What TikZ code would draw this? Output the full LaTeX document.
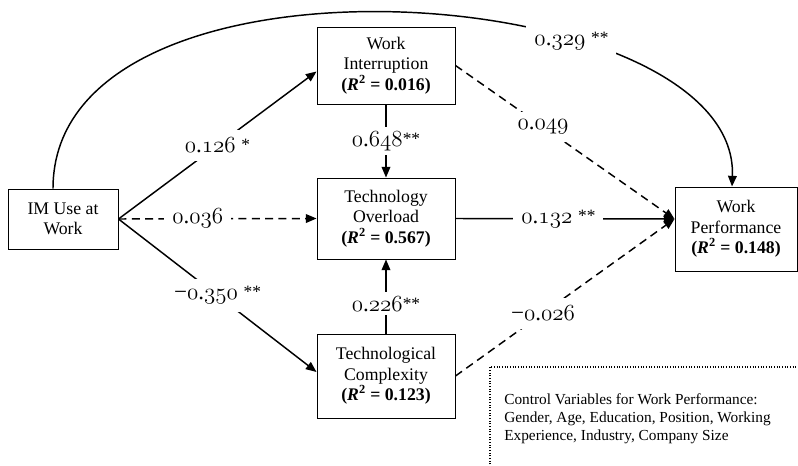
\documentclass[tikz,border=0pt]{standalone}
\usepackage{fontspec}
\setmainfont{Liberation Serif}
\usetikzlibrary{arrows.meta,calc}
\newcommand\osn[1]{{\usefont{OML}{cmm}{m}{it}#1}}
\newcommand\coef[2]{\osn{#1}.\osn{#2}}
\newcommand\stars[1]{\raisebox{1.5pt}{\fontsize{13}{14}\selectfont#1}}
\begin{document}
\begin{tikzpicture}[x=0.75pt,y=-0.75pt,
  box/.style={draw, line width=0.7pt, align=center, inner sep=0pt,
    font=\fontsize{13.3}{15.4}\selectfont},
  conn/.style={line width=1.1pt, -{Triangle[length=8pt,width=6.5pt]}},
  dsh/.style={dash pattern=on 6pt off 4pt},
  lab/.style={fill=white, inner sep=6pt, font=\fontsize{17.28}{18}\selectfont}]
\useasboundingbox (0,0) rectangle (798,466);

\node[box, minimum width=82.5pt, minimum height=45pt] (IM) at (63,219) {IM Use at\\Work};
\node[box, minimum width=103.5pt, minimum height=57.75pt] (WI) at (386,65.5)
  {Work\\Interruption\\\textbf{(\textit{R}\textsuperscript{2} = 0.016)}};
\node[box, minimum width=103.5pt, minimum height=60.75pt] (TO) at (386,218.5)
  {Technology\\Overload\\\textbf{(\textit{R}\textsuperscript{2} = 0.567)}};
\node[box, minimum width=103.5pt, minimum height=63pt] (TC) at (386,376)
  {Technological\\Complexity\\\textbf{(\textit{R}\textsuperscript{2} = 0.123)}};
\node[box, minimum width=91.5pt, minimum height=63pt] (WP) at (736,229)
  {Work\\Performance\\\textbf{(\textit{R}\textsuperscript{2} = 0.148)}};

\coordinate (wpin) at ([yshift=7.5pt]WP.west);

\draw[conn] ([xshift=-7.5pt]IM.north) .. controls (53,-70) and (740,-20) .. ([xshift=-3pt]WP.north)
  node[lab,pos=0.68]{\coef{0}{329} \stars{**}};
\draw[conn] (IM.east) -- ([yshift=-4.5pt]WI.west) node[lab,midway]{\coef{0}{126} \stars{*}};
\draw[conn,dsh] (IM.east) -- (TO.west) node[lab,pos=0.4]{\coef{0}{036}};
\draw[conn] (IM.east) -- ([yshift=3pt]TC.west) node[lab,midway]{−\coef{0}{350} \stars{**}};
\draw[conn] (WI.south) -- (TO.north) node[lab,midway,inner sep=3pt]{\coef{0}{648}\stars{**}};
\draw[conn] (TC.north) -- (TO.south) node[lab,pos=0.4,inner sep=3pt]{\coef{0}{226}\stars{**}};
\draw[conn,dsh] (WI.east) -- (wpin) node[lab,pos=0.4]{\coef{0}{049}};
\draw[conn] (TO.east) -- (wpin) node[lab,pos=0.47]{\coef{0}{132} \stars{**}};
\draw[conn,dsh] (TC.east) -- (wpin) node[lab,pos=0.4]{−\coef{0}{026}};

\draw[line width=0.8pt, dash pattern=on 0.8pt off 1.2pt] (490,475) -- (490,367) -- (805,367);
\node[anchor=west, align=left, inner sep=0pt, font=\fontsize{11.5}{13.5}\selectfont] (ctl) at (504,419)
  {Control Variables for Work Performance:\\Gender, Age, Education, Position, Working\\Experience, Industry, Company Size};
\end{tikzpicture}
\end{document}
